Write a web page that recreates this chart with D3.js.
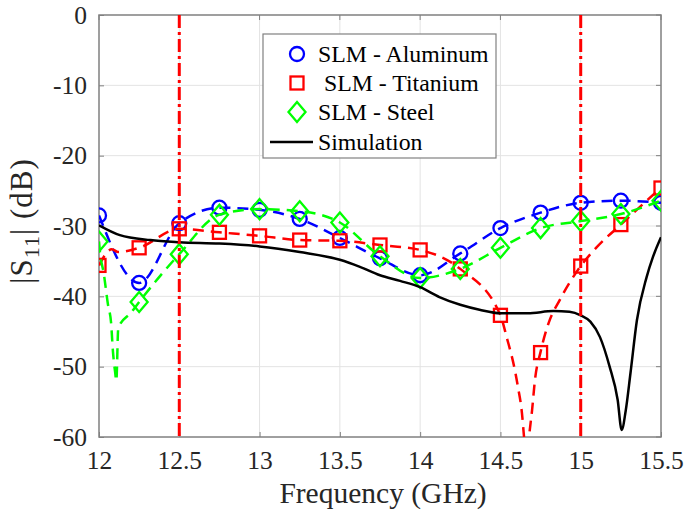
<!DOCTYPE html>
<html><head><meta charset="utf-8">
<script src="https://cdn.jsdelivr.net/npm/d3@7"></script>
<style>body{margin:0;background:#fff}</style>
</head><body>
<script>
// ---- data ----
const markerFreq = [12, 12.25, 12.5, 12.75, 13, 13.25, 13.5, 13.75, 14, 14.25, 14.5, 14.75, 15, 15.25, 15.5];
const aluminum = [-28.5, -38.1, -29.6, -27.4, -27.7, -29.0, -31.7, -34.6, -37.0, -33.9, -30.3, -28.1, -26.7, -26.4, -26.7];
const titanium = [-35.6, -33.1, -30.4, -30.9, -31.4, -32.0, -32.1, -32.7, -33.4, -36.1, -42.7, -48.0, -35.7, -29.8, -24.6];
const steel    = [-32.2, -40.8, -34.0, -28.4, -27.6, -27.9, -29.5, -34.3, -37.4, -36.1, -33.1, -30.3, -29.3, -28.3, -26.4];

// dashed traces (incl. resonance notches)
const alLineF = [12, 12.25, 12.5, 12.75, 13, 13.25, 13.5, 13.75, 14, 14.25, 14.5, 14.75, 15, 15.25, 15.5];
const alLineV = [-28.5, -38.1, -29.6, -27.4, -27.7, -29.0, -31.7, -34.6, -37.0, -33.9, -30.3, -28.1, -26.7, -26.4, -26.7];
const tiLineF = [12, 12.08, 12.12, 12.25, 12.5, 12.75, 13, 13.25, 13.5, 13.75, 14, 14.25, 14.5, 14.54, 14.59, 14.61, 14.634, 14.647, 14.662, 14.678, 14.697, 14.715, 14.75, 14.8, 14.87, 15, 15.1, 15.25, 15.45, 15.5];
const tiLineV = [-35.6, -33.3, -33.7, -33.1, -30.4, -30.9, -31.4, -32.0, -32.1, -32.7, -33.4, -36.1, -42.7, -45.9, -50.5, -53.0, -56.6, -60.0, -64.0, -60.0, -56.2, -51.9, -47.9, -43.8, -40.5, -35.7, -33.0, -29.8, -25.6, -24.6];
const stLineF = [12, 12.006, 12.03, 12.056, 12.075, 12.087, 12.1, 12.108, 12.12, 12.2, 12.25, 12.5, 12.75, 13, 13.25, 13.5, 13.75, 14, 14.25, 14.5, 14.75, 15, 15.25, 15.5];
const stLineV = [-32.2, -33.7, -36.8, -41.2, -43.7, -47.9, -50.7, -52.0, -44.5, -42.3, -40.8, -34.0, -28.4, -27.6, -27.9, -29.5, -34.3, -37.4, -36.1, -33.1, -30.3, -29.3, -28.3, -26.4];

const simF = [12.0, 12.13, 12.32, 12.5, 12.75, 13.0, 13.25, 13.5, 13.625, 13.75, 13.875, 14.0, 14.12, 14.25, 14.37, 14.5, 14.67, 14.83, 14.93, 15.0, 15.06, 15.12, 15.18, 15.23, 15.255, 15.28, 15.31, 15.35, 15.41, 15.45, 15.5];
const simV = [-29.9, -31.3, -32.0, -32.3, -32.5, -32.9, -33.7, -34.8, -35.8, -37.0, -37.8, -38.7, -40.1, -41.2, -41.9, -42.4, -42.4, -42.1, -42.2, -42.7, -43.6, -45.8, -50.0, -54.7, -59.0, -56.3, -50.9, -43.4, -37.3, -34.4, -31.6];

const vLines = [12.5, 15];
const xTicks = [12, 12.5, 13, 13.5, 14, 14.5, 15, 15.5];
const yTicks = [0, -10, -20, -30, -40, -50, -60];
const legendLabels = ["SLM - Aluminum", " SLM - Titanium", "SLM - Steel", "Simulation"];

// ---- layout ----
const W = 687, H = 519;
const m = {left: 99, top: 15, right: 26, bottom: 82};
const pw = W - m.left - m.right, ph = H - m.top - m.bottom;
const FONT = "'Liberation Serif','Times New Roman',serif";
const TXT = "#262626";

const svg = d3.select("body").append("svg").attr("width", W).attr("height", H)
  .style("font-family", FONT);
const g = svg.append("g").attr("transform", `translate(${m.left},${m.top})`);

const x = d3.scaleLinear().domain([12, 15.5]).range([0, pw]);
const y = d3.scaleLinear().domain([-60, 0]).range([ph, 0]);

g.append("defs").append("clipPath").attr("id", "clip")
  .append("rect").attr("width", pw).attr("height", ph);

// grid
g.append("g").selectAll("line").data(xTicks.slice(1, -1)).join("line")
  .attr("x1", d => x(d)).attr("x2", d => x(d)).attr("y1", 0).attr("y2", ph)
  .attr("stroke", "#e3e3e3").attr("stroke-width", 1);
g.append("g").selectAll("line").data(yTicks.slice(1, -1)).join("line")
  .attr("y1", d => y(d)).attr("y2", d => y(d)).attr("x1", 0).attr("x2", pw)
  .attr("stroke", "#e3e3e3").attr("stroke-width", 1);

// axes
const xAxis = g.append("g").attr("transform", `translate(0,${ph})`)
  .call(d3.axisBottom(x).tickValues(xTicks).tickSizeInner(-5).tickSizeOuter(0).tickPadding(14)
    .tickFormat(d => String(d)));
const yAxis = g.append("g")
  .call(d3.axisLeft(y).tickValues(yTicks).tickSizeInner(-5).tickSizeOuter(0).tickPadding(12)
    .tickFormat(d => String(d)));
[xAxis, yAxis].forEach(a => {
  a.select(".domain").remove();
  a.selectAll(".tick line").attr("stroke", "#808080");
  a.selectAll(".tick text").attr("fill", TXT).style("font-size", "25.5px")
    .style("font-family", FONT);
});

// top/right ticks
g.append("g").selectAll("line").data(xTicks).join("line")
  .attr("x1", d => x(d)).attr("x2", d => x(d)).attr("y1", 0).attr("y2", 5).attr("stroke", "#808080");
g.append("g").selectAll("line").data(yTicks).join("line")
  .attr("y1", d => y(d)).attr("y2", d => y(d)).attr("x1", pw).attr("x2", pw - 5).attr("stroke", "#808080");

g.append("rect").attr("width", pw).attr("height", ph).attr("fill", "none")
  .attr("stroke", "#808080").attr("stroke-width", 1.5);

const plot = g.append("g").attr("clip-path", "url(#clip)");
const lineGen = d3.line().x(d => x(d[0])).y(d => y(d[1])).curve(d3.curveMonotoneX);
const zip = (a, b) => a.map((v, i) => [v, b[i]]);

const BLUE = "#0000ff", RED = "#ff0000", GREEN = "#00ff00";
const series = [
  {lf: alLineF, lv: alLineV, mv: aluminum, color: BLUE, shape: "circle"},
  {lf: tiLineF, lv: tiLineV, mv: titanium, color: RED, shape: "square"},
  {lf: stLineF, lv: stLineV, mv: steel, color: GREEN, shape: "diamond"}
];

function drawMarker(sel, shape, color) {
  if (shape === "circle") {
    sel.append("circle").attr("r", 7).attr("fill", "none").attr("stroke", color).attr("stroke-width", 2.3);
  } else if (shape === "square") {
    sel.append("rect").attr("x", -6.5).attr("y", -6.5).attr("width", 13).attr("height", 13)
      .attr("fill", "none").attr("stroke", color).attr("stroke-width", 2.3);
  } else {
    sel.append("path").attr("d", "M0,-10L8.5,0L0,10L-8.5,0Z")
      .attr("fill", "none").attr("stroke", color).attr("stroke-width", 2.3);
  }
}

series.forEach(s => {
  plot.append("path").datum(zip(s.lf, s.lv)).attr("d", lineGen)
    .attr("fill", "none").attr("stroke", s.color).attr("stroke-width", 2.5)
    .attr("stroke-dasharray", "11,7");
  const mg = plot.append("g");
  zip(markerFreq, s.mv).forEach(p => {
    drawMarker(mg.append("g").attr("transform", `translate(${x(p[0])},${y(p[1])})`), s.shape, s.color);
  });
});

plot.append("path").datum(zip(simF, simV)).attr("d", lineGen)
  .attr("fill", "none").attr("stroke", "#000").attr("stroke-width", 2.5);

plot.selectAll(".vl").data(vLines).join("line")
  .attr("x1", d => x(d)).attr("x2", d => x(d)).attr("y1", 0).attr("y2", ph)
  .attr("stroke", RED).attr("stroke-width", 3).attr("stroke-dasharray", "13,4,3,4");

// axis labels
svg.append("text").attr("x", m.left + pw / 2 + 3).attr("y", 503)
  .attr("text-anchor", "middle").style("font-size", "29.5px").attr("fill", TXT)
  .text("Frequency (GHz)");
const yl = svg.append("text").attr("transform", `translate(32,221) rotate(-90)`)
  .attr("text-anchor", "middle").style("font-size", "31px").attr("fill", TXT)
  .style("letter-spacing", "1px");
yl.append("tspan").text("|S");
yl.append("tspan").attr("dy", 7).style("font-size", "22px").text("11");
yl.append("tspan").attr("dy", -7).text("| (dB)");

// legend
const lg = svg.append("g");
lg.append("rect").attr("x", 263).attr("y", 34).attr("width", 233).attr("height", 124)
  .attr("fill", "#fff").attr("stroke", "#808080").attr("stroke-width", 1.2);
const rowY = [54, 83, 112, 142];
const shapes = [["circle", BLUE], ["square", RED], ["diamond", GREEN]];
shapes.forEach((s, i) => drawMarker(lg.append("g").attr("transform", `translate(297,${rowY[i]})`), s[0], s[1]));
lg.append("line").attr("x1", 270).attr("x2", 313).attr("y1", rowY[3]).attr("y2", rowY[3])
  .attr("stroke", "#000").attr("stroke-width", 2.5);
legendLabels.forEach((t, i) => {
  lg.append("text").attr("x", 318).attr("y", rowY[i] + 8)
    .style("font-size", "23.8px").style("white-space", "pre").attr("xml:space", "preserve")
    .attr("fill", "#000").text(t);
});
</script>
</body></html>
